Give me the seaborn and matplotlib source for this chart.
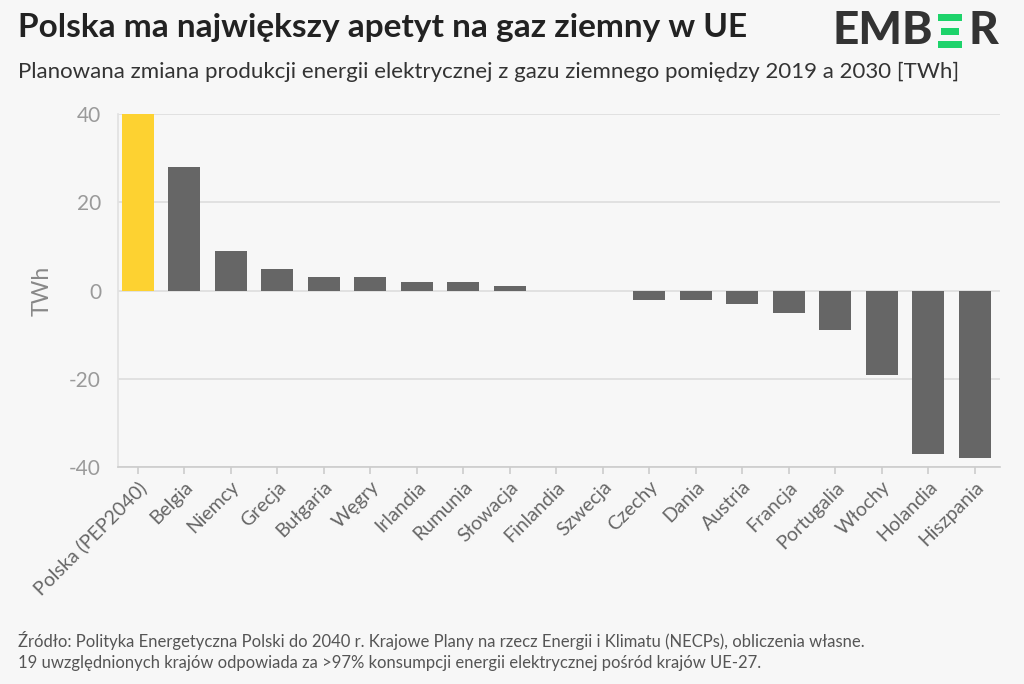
import matplotlib
matplotlib.use('Agg')
from matplotlib import pyplot as plt
from matplotlib.patches import Rectangle
import seaborn as sns
import pandas as pd

countries = ['Polska (PEP2040)', 'Belgia', 'Niemcy', 'Grecja', 'Bułgaria', 'Węgry',
             'Irlandia', 'Rumunia', 'Słowacja', 'Finlandia', 'Szwecja', 'Czechy',
             'Dania', 'Austria', 'Francja', 'Portugalia', 'Włochy', 'Holandia', 'Hiszpania']
change_twh = [40, 28, 9, 5, 3, 3, 2, 2, 1, 0, 0, -2, -2, -3, -5, -9, -19, -37, -38]
y_ticks = [-40, -20, 0, 20, 40]

bg = '#f7f7f7'
colors = ['#fdd231'] + ['#666666'] * (len(countries) - 1)

sns.set_theme(style='white')
plt.rcParams['font.family'] = ['Lato', 'DejaVu Sans']
plt.rcParams['axes.unicode_minus'] = False

df = pd.DataFrame({'kraj': countries, 'zmiana': change_twh})

fig = plt.figure(figsize=(10.24, 6.84), dpi=100, facecolor=bg)
ax = fig.add_axes([0.115, 0.317, 0.862, 0.516], facecolor=bg)

sns.barplot(data=df, x='kraj', y='zmiana', hue='kraj', palette=colors,
            legend=False, width=0.69, saturation=1, linewidth=0, ax=ax, zorder=3)

ax.set_ylim(-40, 40)
ax.set_xlim(-0.43, 18.55)
ax.set_yticks(y_ticks)
ax.yaxis.grid(True, color='#dddddd', linewidth=1.2, zorder=0)
ax.set_axisbelow(True)

for s in ['top', 'right']:
    ax.spines[s].set_visible(False)
ax.spines['left'].set_color('#e2e2e2')
ax.spines['bottom'].set_color('#cccccc')
ax.spines['bottom'].set_linewidth(1.2)

ax.tick_params(axis='y', length=0, labelsize=15, labelcolor='#9a9a9a', pad=12)
ax.tick_params(axis='x', length=5, width=1.2, color='#cccccc', labelsize=14,
               labelcolor='#666666', bottom=True, pad=3)
plt.setp(ax.get_xticklabels(), rotation=45, ha='right', rotation_mode='anchor')

ax.set_xlabel('')
ax.set_ylabel('TWh', fontsize=16.5, color='#888888', labelpad=12)

fig.text(0.018, 0.96, 'Polska ma największy apetyt na gaz ziemny w UE',
         fontsize=24, fontweight='bold', color='#222222', va='center')
fig.text(0.018, 0.895, 'Planowana zmiana produkcji energii elektrycznej z gazu ziemnego pomiędzy 2019 a 2030 [TWh]',
         fontsize=16, color='#333333', va='center')

fig.text(0.018, 0.064, 'Źródło: Polityka Energetyczna Polski do 2040 r. Krajowe Plany na rzecz Energii i Klimatu (NECPs), obliczenia własne.',
         fontsize=12, color='#555555', va='center')
fig.text(0.018, 0.030, '19 uwzględnionych krajów odpowiada za >97% konsumpcji energii elektrycznej pośród krajów UE-27.',
         fontsize=12, color='#555555', va='center')

# logo EMBER
W, H = 1024, 684
logo_c = '#333333'
fig.text(933 / W, 1 - 31 / H, 'EMB', fontsize=33, fontweight=900, color=logo_c,
         ha='right', va='center')
fig.text(968 / W, 1 - 31 / H, 'R', fontsize=33, fontweight=900, color=logo_c,
         ha='left', va='center')
green = '#1ed36b'
for y0, y1, x0, x1 in [(14, 21, 938, 962), (28, 35, 941, 959), (41, 48, 938, 962)]:
    fig.add_artist(Rectangle((x0 / W, 1 - y1 / H), (x1 - x0) / W, (y1 - y0) / H,
                             transform=fig.transFigure, color=green, lw=0))

fig.savefig('out.png', dpi=100, facecolor=bg)
